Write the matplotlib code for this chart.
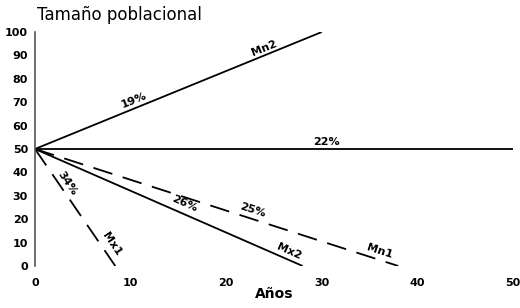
import matplotlib
matplotlib.use('Agg')
import matplotlib.pyplot as plt
import matplotlib.transforms as mtransforms

# Lines: start (years, size) -> end (years, size)
series_names = ['Mn2', 'constante', 'Mx1', 'Mx2', 'Mn1']
x_start = [0, 0, 0, 0, 0]
y_start = [50, 50, 50, 50, 50]
x_end = [30, 50, 8.4, 28, 38]
y_end = [100, 50, 0, 0, 0]
dashed = [False, False, True, False, True]

# Labels along lines
label_texts = ['19%', 'Mn2', '22%', '34%', 'Mx1', '26%', 'Mx2', '25%', 'Mn1']
label_x = [10.4, 24.0, 30.5, 3.4, 8.0, 15.6, 26.6, 22.8, 36.0]
label_y = [71.0, 93.0, 53.0, 35.5, 9.5, 26.5, 6.0, 24.0, 6.5]
label_rot = [22, 22, 0, -56, -56, -24, -24, -18, -18]

x_ticks = [0, 10, 20, 30, 40, 50]
y_ticks = [0, 10, 20, 30, 40, 50, 60, 70, 80, 90, 100]

plt.rcParams['font.family'] = ['DejaVu Sans']

fig = plt.figure(figsize=(5.2, 3.08), dpi=100)
ax = fig.add_axes([35 / 520, 42 / 308, 478 / 520, 234 / 308])

for i in range(len(series_names)):
    ls = (0, (11, 6)) if dashed[i] else '-'
    ax.plot([x_start[i], x_end[i]], [y_start[i], y_end[i]], color='black',
            linewidth=1.3, linestyle=ls, solid_capstyle='butt')

for t, x, y, r in zip(label_texts, label_x, label_y, label_rot):
    ax.text(x, y, t, rotation=r, ha='center', va='center', fontsize=8,
            fontweight='bold', rotation_mode='anchor')

ax.set_xlim(0, 50)
ax.set_ylim(0, 100)
ax.set_xticks(x_ticks)
ax.set_yticks(y_ticks)
ax.set_xticklabels([str(v) for v in x_ticks], fontsize=8, fontweight='bold')
ax.set_yticklabels([str(v) for v in y_ticks], fontsize=8, fontweight='bold')
ax.tick_params(axis='both', length=0)
ax.tick_params(axis='x', pad=9)
ax.tick_params(axis='y', pad=5)

for side in ['top', 'right', 'bottom']:
    ax.spines[side].set_visible(False)
ax.spines['left'].set_color('#555555')
ax.spines['left'].set_linewidth(1.2)

fig.text(37 / 520, 1 - 15 / 308, 'Tamaño poblacional', fontsize=12,
         ha='left', va='center')

trans = mtransforms.blended_transform_factory(ax.transData, fig.transFigure)
ax.text(25, 1 - 294 / 308, 'Años', transform=trans, fontsize=10,
        fontweight='bold', ha='center', va='center')

fig.savefig('out.png', dpi=100)
